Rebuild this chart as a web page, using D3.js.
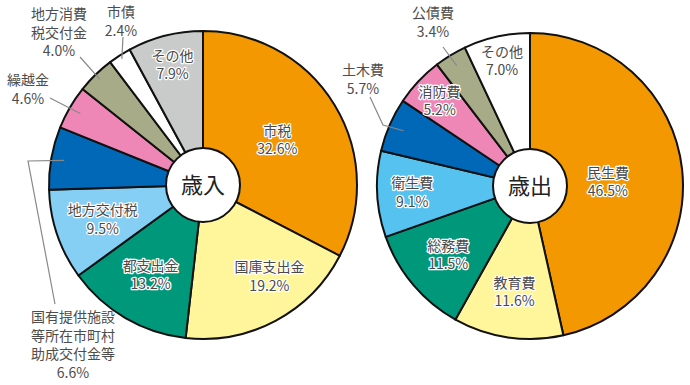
<!DOCTYPE html>
<html>
<head>
<meta charset="utf-8">
<script src="https://cdn.jsdelivr.net/npm/d3@7"></script>
<style>
  body { margin: 0; background: #fff; }
  text { font-family: "Noto Sans CJK JP", "Noto Sans", sans-serif; }
</style>
</head>
<body>
<div class="canvas"></div>
<script>
// 歳入
const revenueCats = ['市税', '国庫支出金', '都支出金', '地方交付税', '国有提供施設等所在市町村助成交付金等', '繰越金', '地方消費税交付金', '市債', 'その他'];
const revenueValues = [32.6, 19.2, 13.2, 9.5, 6.6, 4.6, 4.0, 2.4, 7.9];
const revenueColors = ['#f39800', '#fff59b', '#00987a', '#84cff3', '#0068b7', '#ee87b5', '#a8ab88', '#ffffff', '#c9caca'];

// 歳出
const expenseCats = ['民生費', '教育費', '総務費', '衛生費', '土木費', '消防費', '公債費', 'その他'];
const expenseValues = [46.5, 11.6, 11.5, 9.1, 5.7, 5.2, 3.4, 7.0];
const expenseColors = ['#f39800', '#fff59b', '#00987a', '#55c2f0', '#0068b7', '#ee87b5', '#a8ab88', '#ffffff'];

// label layout: inside labels use radius r (and optional angle a in degrees),
// outside labels use a text anchor point and a leader path (relative to centre)
const revenueLayout = {
	'市税': { r: 87 },
	'国庫支出金': { r: 113, a: 144 },
	'都支出金': { r: 104 },
	'地方交付税': { r: 106 },
	'国有提供施設等所在市町村助成交付金等': { out: [-130, 132], wrap: 6, start: 141, path: [[-175, -24], [-148, 119]] },
	'繰越金': { out: [-175, -105], start: 142, path: [[-153, -87]] },
	'地方消費税交付金': { out: [-144, -171], wrap: 4, start: 148, path: [[-123, -128]] },
	'市債': { out: [-82, -173], start: 150, path: [[-80, -148]] },
	'その他': { r: 124 }
};
const expenseLayout = {
	'民生費': { r: 78, a: 87 },
	'教育費': { r: 107 },
	'総務費': { r: 107 },
	'衛生費': { r: 118 },
	'土木費': { out: [-167, -116], start: 138, path: [[-147, -61], [-160, -89]] },
	'消防費': { r: 124 },
	'公債費': { out: [-97, -173], start: 141, path: [[-87, -139]] },
	'その他': { r: 128 }
};

const svg = d3.select('.canvas')
	.append('svg')
	.attr('width', 690)
	.attr('height', 385);

svg.append('rect')
	.attr('width', 690)
	.attr('height', 385)
	.attr('fill', '#fff');

const fmt = d => d3.format('.1f')(d) + '%';
const lineH = 18.5;

const chunk = (s, n) => {
	const out = [];
	for (let i = 0; i < s.length; i += n) out.push(s.slice(i, i + n));
	return out;
};

function drawPie(cx, cy, radius, cats, values, colors, layout, title) {
	const g = svg.append('g')
		.attr('transform', `translate(${cx}, ${cy})`);

	const color = d3.scaleOrdinal(cats, colors);
	const pie = d3.pie().sort(null).value(d => d.value);
	const data = pie(cats.map((c, i) => ({ name: c, value: values[i] })));

	const arc = d3.arc().innerRadius(0).outerRadius(radius);

	g.selectAll('path.slice')
		.data(data)
		.enter()
		.append('path')
		.attr('class', 'slice')
		.attr('d', arc)
		.attr('fill', d => color(d.data.name))
		.attr('stroke', '#111')
		.attr('stroke-width', 2)
		.attr('stroke-linejoin', 'round');

	const polar = (r, ang) => [r * Math.sin(ang), -r * Math.cos(ang)];

	data.forEach(d => {
		const lay = layout[d.data.name];
		const mid = (d.startAngle + d.endAngle) / 2;
		if (lay.out) {
			const pts = [polar(lay.start, mid)].concat(lay.path);
			g.append('path')
				.attr('d', d3.line()(pts))
				.attr('fill', 'none')
				.attr('stroke', '#888')
				.attr('stroke-width', 1.2);
			const lines = (lay.wrap ? chunk(d.data.name, lay.wrap) : [d.data.name]).concat([fmt(d.data.value)]);
			const t = g.append('text')
				.attr('text-anchor', 'middle')
				.attr('font-size', 14)
				.attr('fill', '#4d4d4d');
			lines.forEach((l, i) => {
				t.append('tspan')
					.attr('x', lay.out[0])
					.attr('y', lay.out[1] + i * lineH)
					.attr('dy', '0.36em')
					.text(l);
			});
		} else {
			const ang = lay.a !== undefined ? lay.a * Math.PI / 180 : mid;
			const [x, y] = polar(lay.r, ang);
			const lines = [d.data.name, fmt(d.data.value)];
			const t = g.append('text')
				.attr('text-anchor', 'middle')
				.attr('font-size', 14)
				.attr('fill', '#4a4a4a')
				.attr('stroke', '#fff')
				.attr('stroke-width', 2.5)
				.attr('stroke-linejoin', 'round')
				.attr('paint-order', 'stroke');
			lines.forEach((l, i) => {
				t.append('tspan')
					.attr('x', x)
					.attr('y', y - lineH / 2 + i * lineH)
					.attr('dy', '0.36em')
					.text(l);
			});
		}
	});

	// centre circle
	g.append('circle')
		.attr('r', 37)
		.attr('fill', '#fff')
		.attr('stroke', '#111')
		.attr('stroke-width', 2);

	g.append('text')
		.attr('text-anchor', 'middle')
		.attr('dy', '0.38em')
		.attr('font-size', 22)
		.attr('fill', '#222')
		.text(title);
}

drawPie(203, 185, 154, revenueCats, revenueValues, revenueColors, revenueLayout, '歳入');
drawPie(530, 186, 153, expenseCats, expenseValues, expenseColors, expenseLayout, '歳出');
</script>
</body>
</html>
